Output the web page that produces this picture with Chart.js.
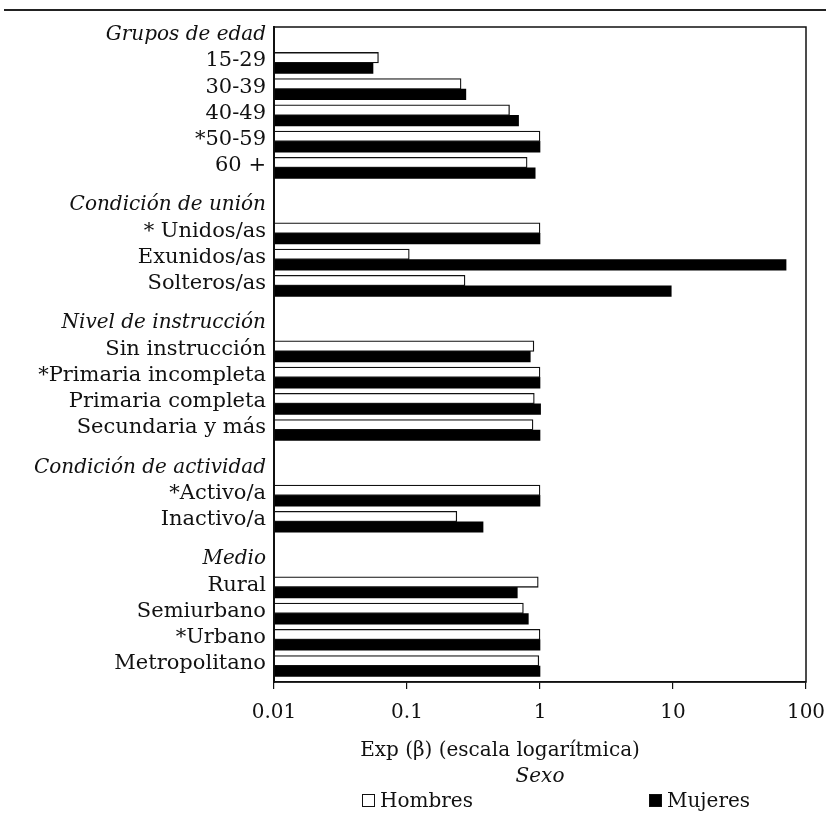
<!DOCTYPE html>
<html>
<head>
<meta charset="utf-8">
<script src="https://cdn.jsdelivr.net/npm/chart.js@4/dist/chart.umd.min.js"></script>
<style>
  html, body { margin: 0; padding: 0; background: #fff; }
  #wrap { position: relative; width: 829px; height: 823px; overflow: hidden; }
  #c { position: absolute; left: 0; top: 0; }
  .rule { position: absolute; left: 4px; top: 9px; width: 822px; border-top: 2px solid #222; }
  .txt { position: absolute; font-family: "DejaVu Serif", serif; font-size: 20px; color: #111; line-height: 24px; white-space: nowrap; }
  .sw { position: absolute; width: 13px; height: 13px; box-sizing: border-box; }
</style>
</head>
<body>
<div id="wrap">
  <div class="rule"></div>
  <canvas id="c" width="829" height="823"></canvas>
  <div class="txt" id="xTitle" style="left:300px; top:737px; width:400px; text-align:center;"></div>
  <div class="txt" id="legTitle" style="left:440px; top:763px; width:200px; text-align:center; font-style:italic;">Sexo</div>
  <div class="sw" id="sw0" style="left:362px; top:794px;"></div>
  <div class="txt" id="lab0" style="left:380px; top:788px;"></div>
  <div class="sw" id="sw1" style="left:649px; top:794px;"></div>
  <div class="txt" id="lab1" style="left:667px; top:788px;"></div>
</div>
<script>
// ---- data ----
const rowLabels = [
  'Grupos de edad', '15-29', '30-39', '40-49', '*50-59', '60 +',
  'Condición de unión', '* Unidos/as', 'Exunidos/as', 'Solteros/as',
  'Nivel de instrucción', 'Sin instrucción', '*Primaria incompleta', 'Primaria completa', 'Secundaria y más',
  'Condición de actividad', '*Activo/a', 'Inactivo/a',
  'Medio', 'Rural', 'Semiurbano', '*Urbano', 'Metropolitano'
];
const hombres = [null, 0.061, 0.255, 0.59, 1.0, 0.80,
  null, 1.0, 0.104, 0.273,
  null, 0.90, 1.0, 0.906, 0.886,
  null, 1.0, 0.237,
  null, 0.97, 0.75, 1.0, 0.98];
const mujeres = [null, 0.0555, 0.277, 0.69, 1.0, 0.92,
  null, 1.0, 70.8, 9.7,
  null, 0.845, 1.0, 1.01, 1.0,
  null, 1.0, 0.373,
  null, 0.675, 0.817, 1.0, 1.0];
const seriesNames = ['Hombres', 'Mujeres'];
const xTicks = [0.01, 0.1, 1, 10, 100];
const xTitle = 'Exp (β) (escala logarítmica)';

// ---- layout of rows (headers get extra space above) ----
const isHeader = rowLabels.map((l, i) => hombres[i] == null && mujeres[i] == null);
const rowPos = [];
let p = 0;
rowLabels.forEach((l, i) => {
  if (i > 0) p += isHeader[i] ? 1.5 : 1;
  rowPos.push(p);
});
const posToIndex = new Map(rowPos.map((v, i) => [v, i]));

function toPoints(arr) {
  const out = [];
  arr.forEach((v, i) => { if (v != null) out.push({ x: v, y: rowPos[i] }); });
  return out;
}

const FONT = '"DejaVu Serif", serif';
const boxPlugin = {
  id: 'box',
  afterDraw(chart) {
    const { ctx, chartArea: a } = chart;
    ctx.save();
    ctx.strokeStyle = '#111';
    ctx.lineWidth = 1.5;
    ctx.strokeRect(a.left, a.top, a.right - a.left, a.bottom - a.top);
    ctx.restore();
  }
};

const chart = new Chart(document.getElementById('c'), {
  type: 'bar',
  data: {
    datasets: [
      { label: seriesNames[0], data: toPoints(hombres), backgroundColor: '#ffffff', borderColor: '#111', borderWidth: 1.3, borderSkipped: false, barThickness: 10.5 },
      { label: seriesNames[1], data: toPoints(mujeres), backgroundColor: '#000000', borderColor: '#000', borderWidth: 0, borderSkipped: false, barThickness: 10.5 }
    ]
  },
  options: {
    indexAxis: 'y',
    responsive: false,
    animation: false,
    layout: { padding: { left: 6, right: 23, top: 27, bottom: 62 } },
    plugins: { legend: { display: false }, tooltip: { enabled: false } },
    scales: {
      x: {
        type: 'logarithmic',
        min: 0.01, max: 100,
        afterBuildTicks(scale) { scale.ticks = xTicks.map(v => ({ value: v, major: true })); },
        afterFit(scale) {
          scale.height = 79;
          scale.paddingRight = 0;
          scale.paddingLeft = 0;
        },
        ticks: {
          color: '#111', font: { family: FONT, size: 20 }, padding: 12, maxRotation: 0, autoSkip: false,
          callback: (v) => String(v)
        },
        grid: { display: true, drawOnChartArea: false, drawTicks: true, tickLength: 7, color: '#111', lineWidth: 1.2 },
        border: { display: true, color: '#111', width: 1.5 },
        title: { display: false, text: xTitle }
      },
      y: {
        type: 'linear',
        reverse: true,
        offset: false,
        min: -0.37, max: 24.61,
        afterBuildTicks(scale) { scale.ticks = rowPos.map(v => ({ value: v })); },
        afterFit(scale) { scale.width = 268; },
        ticks: {
          color: '#111', padding: 8, autoSkip: false, labelOffset: -2,
          font: (ctx) => {
            const i = posToIndex.get(ctx.tick && ctx.tick.value);
            const h = i != null && isHeader[i];
            return { family: FONT, size: h ? 20 : 21, style: h ? 'italic' : 'normal' };
          },
          callback: (v) => { const i = posToIndex.get(v); return i != null ? rowLabels[i] : ''; }
        },
        grid: { display: false, drawTicks: false },
        border: { display: true, color: '#111', width: 2 }
      }
    }
  },
  plugins: [boxPlugin]
});

// axis title and HTML legend built from chart config
document.getElementById('xTitle').textContent = chart.options.scales.x.title.text;
chart.data.datasets.forEach((ds, i) => {
  const sw = document.getElementById('sw' + i);
  sw.style.background = ds.backgroundColor;
  sw.style.border = '1px solid #111';
  document.getElementById('lab' + i).textContent = ds.label;
});
</script>
</body>
</html>
